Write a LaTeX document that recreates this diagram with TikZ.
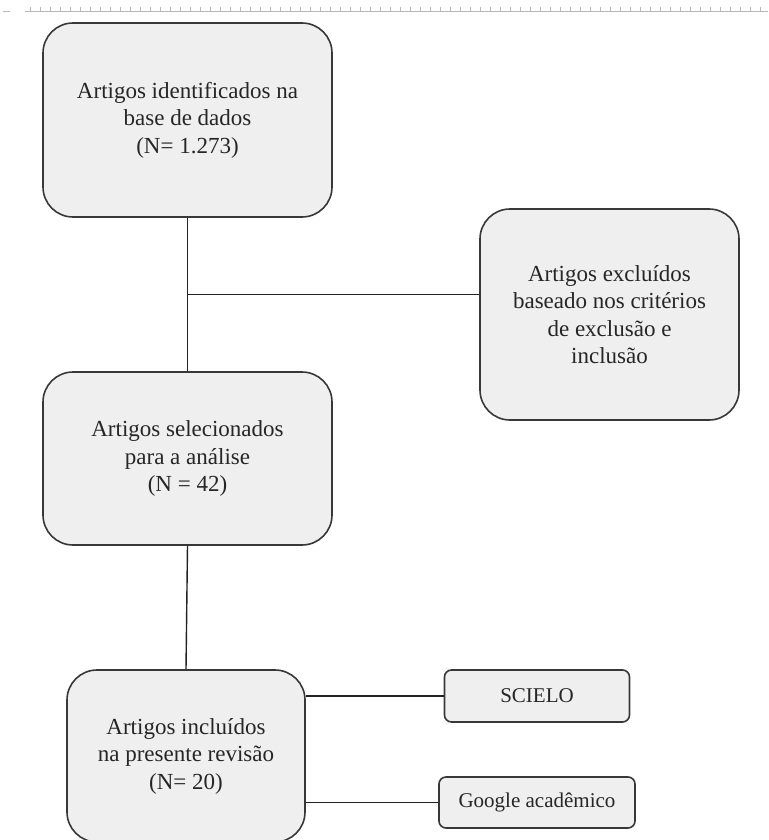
\documentclass[tikz,border=0pt]{standalone}
\usepackage{fontspec}
\setmainfont{Liberation Serif}
\usetikzlibrary{calc}
\definecolor{boxfill}{HTML}{EFEFEF}
\definecolor{boxline}{HTML}{383838}
\definecolor{txt}{HTML}{262626}
\definecolor{linec}{HTML}{222222}
\definecolor{rulerc}{HTML}{B8B8B8}
\begin{document}
\begin{tikzpicture}[x=1pt,y=-1pt,
  box/.style={draw=boxline, line width=1.6pt, fill=boxfill, rounded corners=30pt,
    align=center, text=txt, font=\fontsize{23}{27.5}\selectfont, inner sep=0pt},
  smallbox/.style={box, rounded corners=7pt, font=\fontsize{21}{25}\selectfont},
  link/.style={draw=linec, line width=1.4pt},
  rulerline/.style={draw=rulerc, line width=0.8pt}]
\useasboundingbox (0,0) rectangle (768,840);
\fill[white] (0,0) rectangle (768,840);
% ruler strip at the top
\draw[rulerline] (3,11) -- (10,11);
\draw[rulerline] (25,11) -- (768,11);
\foreach \x in {30,40,...,760} {\draw[rulerline] (\x,7) -- (\x,11);}
% boxes
\node[box, minimum width=289pt, minimum height=194pt] (b1) at (187.5,120)
  {Artigos identificados na\\base de dados\\(N= 1.273)};
\node[box, minimum width=259pt, minimum height=211pt] (b2) at (609.5,314.5)
  {Artigos excluídos\\baseado nos critérios\\de exclusão e\\inclusão};
\node[box, minimum width=289pt, minimum height=173pt] (b3) at (187.5,458.5)
  {Artigos selecionados\\para a análise\\(N = 42)};
\node[box, minimum width=238pt, minimum height=172pt] (b4) at (186,756)
  {Artigos incluídos\\na presente revisão\\(N= 20)};
\node[smallbox, minimum width=185pt, minimum height=52pt] (s) at (537,696) {SCIELO};
\node[smallbox, minimum width=196pt, minimum height=51pt] (g) at (537,802.5) {Google acadêmico};
% connectors
\draw[link] (b1.south) -- (b3.north);
\coordinate (j) at ($(b1.south)!0.5!(b3.north)$);
\draw[link] (j) -- (j -| b2.west);
\draw[link] (b3.south) -- (b4.north);
\draw[link] (b4.east |- s.west) -- (s.west);
\draw[link] (b4.east |- g.west) -- (g.west);
\end{tikzpicture}
\end{document}
